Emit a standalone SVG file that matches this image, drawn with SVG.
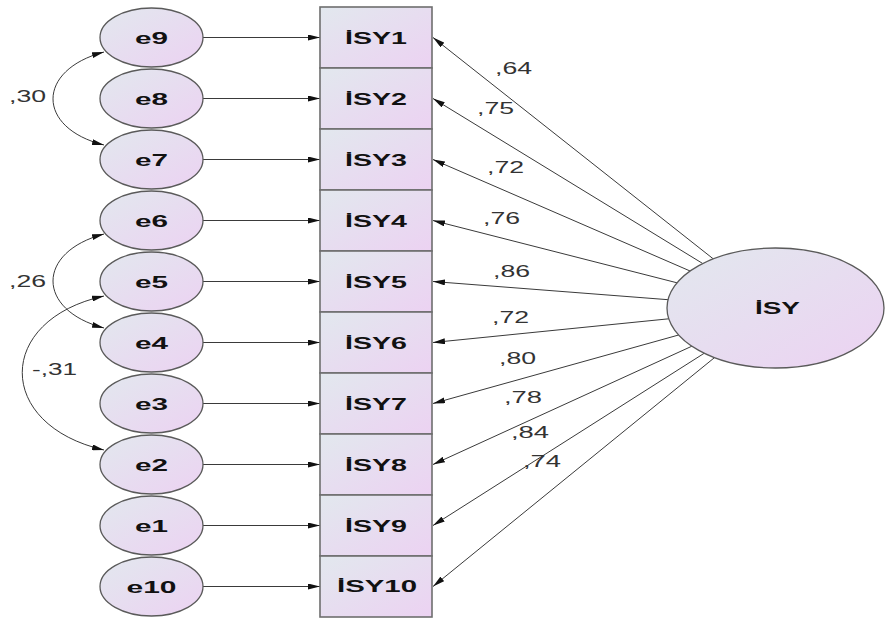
<svg xmlns="http://www.w3.org/2000/svg" width="885" height="619" viewBox="0 0 885 619">
<defs>
<linearGradient id="fillg" x1="0" y1="0" x2="1" y2="1">
<stop offset="0" stop-color="#e2e8ee"/>
<stop offset="1" stop-color="#ecd2f2"/>
</linearGradient>
<marker id="ah" markerUnits="userSpaceOnUse" markerWidth="12" markerHeight="6" refX="12" refY="3" orient="auto-start-reverse" viewBox="0 0 12 6">
<path d="M0,0 L12,3 L0,6 z" fill="#111"/>
</marker>
<style>
.node{fill:url(#fillg);stroke:#5a5a5a;stroke-width:1.3}
.box{fill:url(#fillg);stroke:#6e6e6e;stroke-width:1.6}
.lbl{font-family:"Liberation Sans",Arial,sans-serif;font-weight:bold;font-size:17px;fill:#111;text-anchor:middle}
.num{font-family:"Liberation Sans",Arial,sans-serif;font-size:16px;fill:#333}
.con{fill:none;stroke:#3a3a3a;stroke-width:1}
.arr{marker-end:url(#ah)}
.bi{marker-start:url(#ah);marker-end:url(#ah)}
</style>
</defs>

<g id="connectors">
<line class="con arr" x1="203" y1="37.5" x2="320" y2="37.5"/>
<line class="con arr" x1="203" y1="98.5" x2="320" y2="98.5"/>
<line class="con arr" x1="203" y1="159.5" x2="320" y2="159.5"/>
<line class="con arr" x1="203" y1="220.5" x2="320" y2="220.5"/>
<line class="con arr" x1="203" y1="281.5" x2="320" y2="281.5"/>
<line class="con arr" x1="203" y1="342.5" x2="320" y2="342.5"/>
<line class="con arr" x1="203" y1="403.5" x2="320" y2="403.5"/>
<line class="con arr" x1="203" y1="464.5" x2="320" y2="464.5"/>
<line class="con arr" x1="203" y1="525.5" x2="320" y2="525.5"/>
<line class="con arr" x1="203" y1="586.5" x2="320" y2="586.5"/>

<line class="con arr" x1="713.3" y1="258.9" x2="433" y2="37.5"/>
<line class="con arr" x1="702.7" y1="263.5" x2="433" y2="98.5"/>
<line class="con arr" x1="690.1" y1="271.0" x2="433" y2="159.5"/>
<line class="con arr" x1="677.0" y1="282.8" x2="433" y2="220.5"/>
<line class="con arr" x1="668.1" y1="299.7" x2="433" y2="281.5"/>
<line class="con arr" x1="668.8" y1="318.8" x2="433" y2="342.5"/>
<line class="con arr" x1="678.6" y1="335.0" x2="433" y2="403.5"/>
<line class="con arr" x1="691.9" y1="346.2" x2="433" y2="464.5"/>
<line class="con arr" x1="704.3" y1="353.2" x2="433" y2="525.5"/>
<line class="con arr" x1="714.5" y1="357.6" x2="433" y2="586.5"/>

<path class="con bi" d="M104,52 C36,70 36,128 104,145"/>
<path class="con bi" d="M104,234 C36,252 36,310 104,328"/>
<path class="con bi" d="M104,296 C-5,320 -5,425 104,450"/>

<text class="num" x="9" y="102" textLength="37" lengthAdjust="spacingAndGlyphs">,30</text>
<text class="num" x="9" y="287" textLength="37" lengthAdjust="spacingAndGlyphs">,26</text>
<text class="num" x="32" y="375" textLength="45" lengthAdjust="spacingAndGlyphs">-,31</text>

<text class="num" x="495" y="74" textLength="37" lengthAdjust="spacingAndGlyphs">,64</text>
<text class="num" x="477" y="114" textLength="37" lengthAdjust="spacingAndGlyphs">,75</text>
<text class="num" x="487" y="173" textLength="37" lengthAdjust="spacingAndGlyphs">,72</text>
<text class="num" x="483" y="224" textLength="37" lengthAdjust="spacingAndGlyphs">,76</text>
<text class="num" x="493" y="277" textLength="37" lengthAdjust="spacingAndGlyphs">,86</text>
<text class="num" x="492" y="323" textLength="37" lengthAdjust="spacingAndGlyphs">,72</text>
<text class="num" x="499" y="364" textLength="37" lengthAdjust="spacingAndGlyphs">,80</text>
<text class="num" x="504" y="403" textLength="38" lengthAdjust="spacingAndGlyphs">,78</text>
<text class="num" x="511" y="438" textLength="38" lengthAdjust="spacingAndGlyphs">,84</text>
<text class="num" x="523" y="467" textLength="38" lengthAdjust="spacingAndGlyphs">,74</text>
</g>

<g id="e9"><ellipse class="node" cx="151.5" cy="37.5" rx="51.5" ry="29.5"/><text class="lbl" x="151.5" y="43.5" textLength="33" lengthAdjust="spacingAndGlyphs">e9</text></g>
<g id="e8"><ellipse class="node" cx="151.5" cy="98.5" rx="51.5" ry="29.5"/><text class="lbl" x="151.5" y="104.5" textLength="33" lengthAdjust="spacingAndGlyphs">e8</text></g>
<g id="e7"><ellipse class="node" cx="151.5" cy="159.5" rx="51.5" ry="29.5"/><text class="lbl" x="151.5" y="165.5" textLength="33" lengthAdjust="spacingAndGlyphs">e7</text></g>
<g id="e6"><ellipse class="node" cx="151.5" cy="220.5" rx="51.5" ry="29.5"/><text class="lbl" x="151.5" y="226.5" textLength="33" lengthAdjust="spacingAndGlyphs">e6</text></g>
<g id="e5"><ellipse class="node" cx="151.5" cy="281.5" rx="51.5" ry="29.5"/><text class="lbl" x="151.5" y="287.5" textLength="33" lengthAdjust="spacingAndGlyphs">e5</text></g>
<g id="e4"><ellipse class="node" cx="151.5" cy="342.5" rx="51.5" ry="29.5"/><text class="lbl" x="151.5" y="348.5" textLength="33" lengthAdjust="spacingAndGlyphs">e4</text></g>
<g id="e3"><ellipse class="node" cx="151.5" cy="403.5" rx="51.5" ry="29.5"/><text class="lbl" x="151.5" y="409.5" textLength="33" lengthAdjust="spacingAndGlyphs">e3</text></g>
<g id="e2"><ellipse class="node" cx="151.5" cy="464.5" rx="51.5" ry="29.5"/><text class="lbl" x="151.5" y="470.5" textLength="33" lengthAdjust="spacingAndGlyphs">e2</text></g>
<g id="e1"><ellipse class="node" cx="151.5" cy="525.5" rx="51.5" ry="29.5"/><text class="lbl" x="151.5" y="531.5" textLength="33" lengthAdjust="spacingAndGlyphs">e1</text></g>
<g id="e10"><ellipse class="node" cx="151.5" cy="586.5" rx="51.5" ry="29.5"/><text class="lbl" x="151.5" y="592.5" textLength="50" lengthAdjust="spacingAndGlyphs">e10</text></g>

<g id="ISY1"><rect class="box" x="320" y="7" width="112" height="61"/><text class="lbl" x="376" y="43.5" textLength="62" lengthAdjust="spacingAndGlyphs">İSY1</text></g>
<g id="ISY2"><rect class="box" x="320" y="68" width="112" height="61"/><text class="lbl" x="376" y="104.5" textLength="62" lengthAdjust="spacingAndGlyphs">İSY2</text></g>
<g id="ISY3"><rect class="box" x="320" y="129" width="112" height="61"/><text class="lbl" x="376" y="165.5" textLength="62" lengthAdjust="spacingAndGlyphs">İSY3</text></g>
<g id="ISY4"><rect class="box" x="320" y="190" width="112" height="61"/><text class="lbl" x="376" y="226.5" textLength="62" lengthAdjust="spacingAndGlyphs">İSY4</text></g>
<g id="ISY5"><rect class="box" x="320" y="251" width="112" height="61"/><text class="lbl" x="376" y="287.5" textLength="62" lengthAdjust="spacingAndGlyphs">İSY5</text></g>
<g id="ISY6"><rect class="box" x="320" y="312" width="112" height="61"/><text class="lbl" x="376" y="348.5" textLength="62" lengthAdjust="spacingAndGlyphs">İSY6</text></g>
<g id="ISY7"><rect class="box" x="320" y="373" width="112" height="61"/><text class="lbl" x="376" y="409.5" textLength="62" lengthAdjust="spacingAndGlyphs">İSY7</text></g>
<g id="ISY8"><rect class="box" x="320" y="434" width="112" height="61"/><text class="lbl" x="376" y="470.5" textLength="62" lengthAdjust="spacingAndGlyphs">İSY8</text></g>
<g id="ISY9"><rect class="box" x="320" y="495" width="112" height="61"/><text class="lbl" x="376" y="531.5" textLength="62" lengthAdjust="spacingAndGlyphs">İSY9</text></g>
<g id="ISY10"><rect class="box" x="320" y="556" width="112" height="61"/><text class="lbl" x="377" y="592" textLength="80" lengthAdjust="spacingAndGlyphs">İSY10</text></g>

<g id="ISY"><ellipse class="node" cx="775.5" cy="308" rx="108.5" ry="60"/><text class="lbl" x="777.5" y="314" textLength="45" lengthAdjust="spacingAndGlyphs">İSY</text></g>
</svg>
